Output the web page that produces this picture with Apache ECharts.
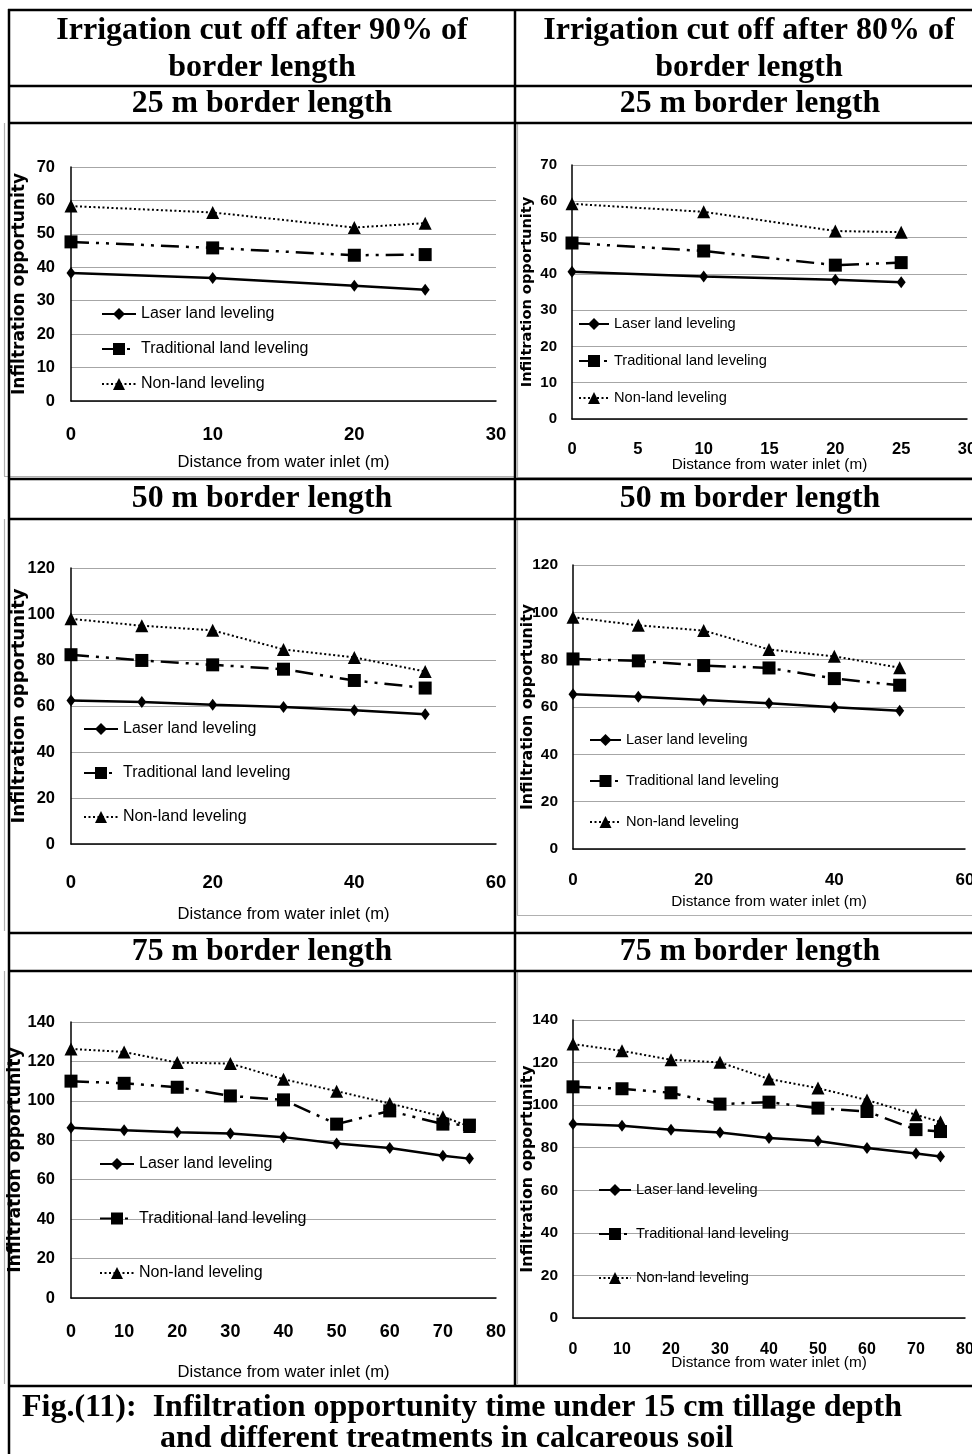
<!DOCTYPE html>
<html><head><meta charset="utf-8">
<script src="https://cdn.jsdelivr.net/npm/echarts@6/dist/echarts.min.js"></script>
<style>html,body{margin:0;padding:0;background:#fff}#c{width:972px;height:1454px}</style>
</head><body><div id="c"></div>
<script>
// ---------------- DATA ----------------
const seriesNames = ['Laser land leveling', 'Traditional land leveling', 'Non-land leveling'];
const xAxisTitle = 'Distance from water inlet (m)';
const yAxisTitle = 'Infiltration opportunity';
const columnHeaders = ['Irrigation cut off after 90% of\nborder length', 'Irrigation cut off after 80% of\nborder length'];
const rowHeaders = ['25 m border length', '50 m border length', '75 m border length'];
const captionLines = ['Fig.(11):  Infiltration opportunity time under 15 cm tillage depth', 'and different treatments in calcareous soil'];

const dist25 = [0, 10, 20, 25];
const dist50 = [0, 10, 20, 30, 40, 50];
const dist75 = [0, 10, 20, 30, 40, 50, 60, 70, 75];

// 25 m border, cut-off 90%
const laser25_90 = [38.3, 36.8, 34.5, 33.3];
const trad25_90  = [47.6, 45.8, 43.6, 43.8];
const non25_90   = [58.3, 56.4, 51.9, 53.2];
// 25 m border, cut-off 80%
const laser25_80 = [40.6, 39.3, 38.4, 37.7];
const trad25_80  = [48.5, 46.3, 42.4, 43.1];
const non25_80   = [59.3, 57.1, 51.8, 51.5];
// 50 m border, cut-off 90%
const laser50_90 = [62.4, 61.7, 60.5, 59.6, 58.2, 56.4];
const trad50_90  = [82.3, 79.8, 77.9, 76.0, 71.1, 67.8];
const non50_90   = [97.9, 94.9, 92.9, 84.6, 81.1, 75.0];
// 50 m border, cut-off 80%
const laser50_80 = [65.4, 64.3, 63.0, 61.6, 59.9, 58.4];
const trad50_80  = [80.3, 79.5, 77.5, 76.5, 72.0, 69.2];
const non50_80   = [97.9, 94.5, 92.3, 84.3, 81.4, 76.6];
// 75 m border, cut-off 90%
const laser75_90 = [86.3, 85.1, 84.1, 83.4, 81.6, 78.4, 76.1, 72.2, 70.7];
const trad75_90  = [110.0, 108.9, 106.9, 102.5, 100.5, 88.2, 94.9, 88.2, 87.7];
const non75_90   = [126.3, 124.8, 119.4, 118.9, 111.0, 104.9, 98.7, 92.0, 87.0];
// 75 m border, cut-off 80%
const laser75_80 = [91.1, 90.3, 88.4, 87.2, 84.6, 83.2, 79.9, 77.3, 75.9];
const trad75_80  = [108.6, 107.7, 105.8, 100.5, 101.4, 98.6, 97.0, 88.5, 87.6];
const non75_80   = [128.7, 125.5, 121.3, 120.1, 112.3, 108.0, 102.4, 95.5, 92.1];

// axis ranges (tick labels): [min, max, interval]
const xRange25a = [0, 30, 10];
const xRange25b = [0, 30, 5];
const xRange50 = [0, 60, 20];
const xRange75 = [0, 80, 10];
const yRange25 = [0, 70, 10];
const yRange50 = [0, 120, 20];
const yRange75 = [0, 140, 20];

// ---------------- LAYOUT / STYLE ----------------
const SANS = '"Liberation Sans", Arial, sans-serif';
const YT_FONT = '"DejaVu Sans", "Liberation Sans", sans-serif';
const SERIF = '"Liberation Serif", "Times New Roman", serif';

const panels = [
  {dist: dist25, vals: [laser25_90, trad25_90, non25_90], xr: xRange25a, yr: yRange25,
   l: 71, t: 167, w: 425, h: 234, ylf: 16.5, xlf: 18.5, ylm: 16, xlm: 24, xnf: 16.6, xng: 53, ynf: 17, yng: 43,
   leg: {l: 101, t: 304, iw: 34, gap: 15, f: 16}},
  {dist: dist25, vals: [laser25_80, trad25_80, non25_80], xr: xRange25b, yr: yRange25,
   l: 572, t: 165, w: 395, h: 254, ylf: 15, xlf: 16.5, ylm: 15, xlm: 22, xnf: 15.3, xng: 38, ynf: 14.6, yng: 37,
   leg: {l: 578, t: 314, iw: 30, gap: 17, f: 14.6}},
  {dist: dist50, vals: [laser50_90, trad50_90, non50_90], xr: xRange50, yr: yRange50,
   l: 71, t: 568, w: 425, h: 276, ylf: 16.5, xlf: 18.5, ylm: 16, xlm: 29, xnf: 16.6, xng: 62, ynf: 18, yng: 43,
   leg: {l: 83, t: 719, iw: 34, gap: 24, f: 16}},
  {dist: dist50, vals: [laser50_80, trad50_80, non50_80], xr: xRange50, yr: yRange50,
   l: 573, t: 565, w: 392, h: 284, ylf: 15.5, xlf: 17, ylm: 15, xlm: 22.5, xnf: 15.3, xng: 45, ynf: 15.8, yng: 37,
   leg: {l: 589, t: 730, iw: 31, gap: 21, f: 14.6}},
  {dist: dist75, vals: [laser75_90, trad75_90, non75_90], xr: xRange75, yr: yRange75,
   l: 71, t: 1022, w: 425, h: 276, ylf: 16.5, xlf: 18, ylm: 16, xlm: 25, xnf: 16.6, xng: 66, ynf: 17.3, yng: 47,
   leg: {l: 99, t: 1154, iw: 34, gap: 34.5, f: 16}},
  {dist: dist75, vals: [laser75_80, trad75_80, non75_80], xr: xRange75, yr: yRange75,
   l: 573, t: 1020, w: 392, h: 298, ylf: 15.5, xlf: 16, ylm: 15, xlm: 24, xnf: 15.3, xng: 37, ynf: 15.9, yng: 37,
   leg: {l: 598, t: 1180, iw: 32, gap: 24, f: 14.6}}
];

const seriesStyles = [
  {symbol: 'diamond', symbolSize: [9, 12], lineStyle: {color: '#000', width: 2.5, type: 'solid'}},
  {symbol: 'rect', symbolSize: 13, lineStyle: {color: '#000', width: 2.5, type: [18, 7, 3, 7, 3, 7]}},
  {symbol: 'triangle', symbolSize: 13, lineStyle: {color: '#000', width: 2, type: [2, 2.5]}}
];

const grids = [], xAxes = [], yAxes = [], series = [], legends = [];
panels.forEach((p, i) => {
  grids.push({left: p.l, top: p.t, width: p.w, height: p.h, containLabel: false, outerBoundsMode: 'none'});
  xAxes.push({
    type: 'value', gridIndex: i, min: p.xr[0], max: p.xr[1], interval: p.xr[2],
    name: xAxisTitle, nameLocation: 'middle', nameGap: p.xng, nameMoveOverlap: false,
    nameTextStyle: {fontFamily: SANS, fontSize: p.xnf, color: '#000'},
    axisLine: {onZero: false, lineStyle: {color: '#000', width: 1.5}},
    axisTick: {show: false}, splitLine: {show: false},
    axisLabel: {fontFamily: SANS, fontWeight: 'bold', fontSize: p.xlf, color: '#000', margin: p.xlm}
  });
  yAxes.push({
    type: 'value', gridIndex: i, min: p.yr[0], max: p.yr[1], interval: p.yr[2],
    name: yAxisTitle, nameLocation: 'middle', nameGap: p.yng, nameMoveOverlap: false,
    nameTextStyle: {fontFamily: YT_FONT, fontWeight: 'bold', fontSize: p.ynf, color: '#000'},
    axisLine: {show: true, lineStyle: {color: '#000', width: 1.5}},
    axisTick: {show: false},
    splitLine: {show: true, lineStyle: {color: '#a6a6a6', width: 1}},
    axisLabel: {fontFamily: SANS, fontWeight: 'bold', fontSize: p.ylf, color: '#000', margin: p.ylm}
  });
  seriesNames.forEach((name, k) => {
    const st = seriesStyles[k];
    series.push({
      name: name, type: 'line', xAxisIndex: i, yAxisIndex: i,
      data: p.dist.map((d, j) => [d, p.vals[k][j]]),
      symbol: st.symbol, symbolSize: st.symbolSize,
      itemStyle: {color: '#000', borderWidth: 0},
      lineStyle: st.lineStyle,
      animation: false, z: 3 + k
    });
  });
  legends.push({
    orient: 'vertical', left: p.leg.l, top: p.leg.t, padding: 0,
    itemWidth: p.leg.iw, itemHeight: 15, itemGap: p.leg.gap,
    data: seriesNames,
    textStyle: {fontFamily: SANS, fontSize: p.leg.f, color: '#000', lineHeight: 20},
    selectedMode: false
  });
});

// table lines and texts
const graphics = [];
function hline(y, x1, x2, c, w) { graphics.push({type: 'line', shape: {x1: x1, y1: y, x2: x2, y2: y}, style: {stroke: c, lineWidth: w}, silent: true}); }
function vline(x, y1, y2, c, w) { graphics.push({type: 'line', shape: {x1: x, y1: y1, x2: x, y2: y2}, style: {stroke: c, lineWidth: w}, silent: true}); }
function txt(s, x, y, align, size) {
  graphics.push({type: 'text', x: x, y: y, silent: true,
    style: {text: s, align: align, verticalAlign: 'middle', fontFamily: SERIF, fontWeight: 'bold', fontSize: size, fill: '#000', lineHeight: 37}});
}
// gray chart frames
const GRAY = '#b0b0b0';
vline(4.5, 123, 476, GRAY, 1.2); hline(476.5, 4, 514, GRAY, 1.2);
vline(517.5, 123, 477, GRAY, 1.2); hline(477.5, 517, 972, GRAY, 1.2);
vline(4.5, 519, 931, GRAY, 1.2); vline(517.5, 519, 915, GRAY, 1.2); hline(915.5, 517, 972, GRAY, 1.2);
vline(4.5, 971, 1384, GRAY, 1.2); vline(517.5, 971, 1384, GRAY, 1.2);
// black table rules
const BW = 2.5;
hline(10, 8, 972, '#000', BW);
[86, 123, 479, 519, 933, 971, 1386].forEach(y => hline(y, 8, 972, '#000', BW));
vline(9, 9, 1454, '#000', BW);
vline(515, 9, 1386, '#000', BW);
// headers
txt(columnHeaders[0], 262, 49, 'center', 32);
txt(columnHeaders[1], 749, 49, 'center', 32);
txt(rowHeaders[0], 262, 104, 'center', 31.8);
txt(rowHeaders[0], 750, 104, 'center', 31.8);
txt(rowHeaders[1], 262, 499, 'center', 31.8);
txt(rowHeaders[1], 750, 499, 'center', 31.8);
txt(rowHeaders[2], 262, 952, 'center', 31.8);
txt(rowHeaders[2], 750, 952, 'center', 31.8);
txt(captionLines[0], 22, 1408, 'left', 32);
txt(captionLines[1], 160, 1439, 'left', 32);

const chart = echarts.init(document.getElementById('c'), null, {renderer: 'canvas'});
chart.setOption({
  backgroundColor: '#fff',
  animation: false,
  grid: grids, xAxis: xAxes, yAxis: yAxes, series: series, legend: legends,
  graphic: graphics
});
</script>
</body></html>
